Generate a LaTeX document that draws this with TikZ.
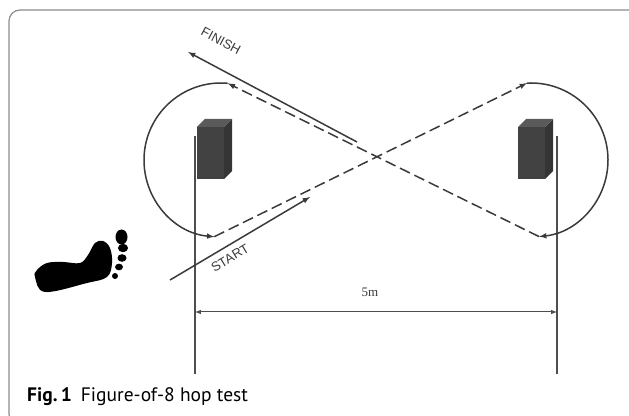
\documentclass[tikz,border=0pt]{standalone}
\usepackage{fontspec}
\usepackage{tikz}
\usetikzlibrary{calc}
\newfontfamily\labelfont{Liberation Sans}
\newfontfamily\dimfont{Liberation Serif}
\newfontfamily\capfont{PT Sans}
\definecolor{ink}{HTML}{3A3A3A}
\definecolor{frontface}{HTML}{424242}
\definecolor{sideface}{HTML}{353535}
\definecolor{topface}{HTML}{5A5A5A}

\begin{document}
\begin{tikzpicture}[x=1pt,y=1pt]
\tikzstyle{walk}=[draw=ink,line width=1.5pt,-latex]
\tikzstyle{hop}=[walk,dashed,dash pattern=on 11pt off 5pt]
\tikzstyle{guide}=[draw=ink!90,line width=1.2pt]
\tikzstyle{tag}=[font=\labelfont\fontsize{13}{15}\selectfont,text=ink,inner sep=0pt]
\useasboundingbox (0,0) rectangle (629,415);
\draw[gray!90,line width=1.2pt,rounded corners=11pt] (9,-10) rectangle (640,405);
\coordinate (L_c) at (221,255);
\coordinate (R_c) at (531,255);
\coordinate (L_t) at ($(L_c)+(85:77)$);
\coordinate (L_b) at ($(L_c)+(265:77)$);
\coordinate (R_t) at ($(R_c)+(93:77)$);
\coordinate (R_b) at ($(R_c)+(-84:77)$);
\fill[frontface] (197,236) rectangle (224,288);
\fill[sideface] (224,236) -- (232,244) -- (232,296) -- (224,288) -- cycle;
\fill[topface] (197,288) -- (205,296) -- (232,296) -- (224,288) -- cycle;
\fill[frontface] (518,236) rectangle (545,288);
\fill[sideface] (545,236) -- (553,244) -- (553,296) -- (545,288) -- cycle;
\fill[topface] (518,288) -- (526,296) -- (553,296) -- (545,288) -- cycle;
\coordinate (L_up) at (195,279);
\coordinate (L_dn) at (195,41);
\coordinate (R_up) at (557,279);
\coordinate (R_dn) at (557,41);
\draw[guide] (L_up) -- (L_dn);
\draw[guide] (R_up) -- (R_dn);
\coordinate (dim_l) at (195,103);
\coordinate (dim_r) at (557,103);
\draw[guide,line width=1pt,latex-latex] (dim_l) -- (dim_r);
\node[font=\dimfont\fontsize{13}{15}\selectfont,text=ink] (dist) at (370,123) {5m};
\draw[hop] (L_b) -- (R_t);
\draw[walk] (R_t) arc (93:-84:77);
\draw[hop] (R_b) -- (L_t);
\draw[walk] (L_t) arc (85:265:77);
\coordinate (S_a) at (170,135);
\coordinate (S_b) at (310,218);
\coordinate (F_a) at (357,273);
\coordinate (F_b) at (188,363);
\draw[walk] (S_a) -- (S_b);
\draw[walk] (F_a) -- (F_b);
\node[tag,rotate=31] (start) at (230,157) {START};
\node[tag,rotate=-28] (finish) at (221,374) {FINISH};
\fill[black] plot[smooth cycle,tension=0.6] coordinates {(35,138) (45,123) (87,132) (107,138) (112,152) (110,167) (103,174) (95,172) (88,160) (80,152) (63,153) (47,152) (37,145)};
\fill[black] (121.5,178) ellipse (6 and 7.5);
\fill[black] (123,167) ellipse (5 and 4.2);
\fill[black] (122,157) ellipse (4.5 and 3.8);
\fill[black] (119,148) ellipse (4 and 3.3);
\fill[black] (115,139) ellipse (3 and 3);
\node[anchor=base west,inner sep=0pt,font=\capfont\fontsize{19.5}{22}\selectfont] (cap) at (27,13) {\textbf{Fig.\,1}\hspace{9pt}Figure-of-8 hop test};
\end{tikzpicture}
\end{document}
